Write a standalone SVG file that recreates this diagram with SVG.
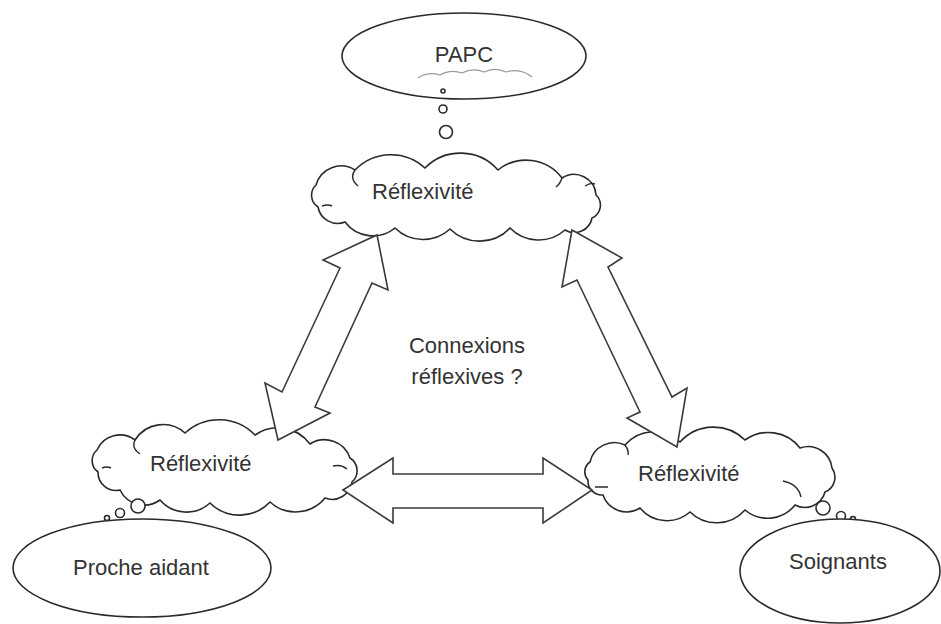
<svg xmlns="http://www.w3.org/2000/svg" width="941" height="624" viewBox="0 0 941 624">
<style>
.sh{fill:#fff;stroke:#2a2a2a;stroke-width:1.6}
.ln{fill:none;stroke:#2a2a2a;stroke-width:1.4}
.ar{fill:#fff;stroke:#3a3a3a;stroke-width:1.6;stroke-linejoin:miter}
.t{font-family:"Liberation Sans",Arial,sans-serif;font-size:22px;fill:#333}
</style>
<rect width="941" height="624" fill="#fff"/>
<g id="papc">
<ellipse class="sh" cx="464" cy="56" rx="122" ry="43"/>
<text class="t" x="464" y="62" text-anchor="middle" font-size="21">PAPC</text>
<path d="M418,78 A26,26 0 0 1 440,75 A26,26 0 0 1 462,73 A26,26 0 0 1 484,72 A26,26 0 0 1 506,72 A28,28 0 0 1 532,77" fill="none" stroke="#9a9a9a" stroke-width="1.2"/>
<circle class="sh" cx="443" cy="91" r="2"/>
<circle class="sh" cx="443" cy="109" r="4"/>
<circle class="sh" cx="446" cy="132" r="6.5"/>
</g>
<g id="cloud-top">
<path class="sh" d="M316,185 A26,26 0 0 1 355,170 A50,50 0 0 1 425,168 A50,50 0 0 1 498,170 A45,45 0 0 1 562,178 A22,22 0 0 1 596,195 A14,14 0 0 1 592,218 A18,18 0 0 1 565,230 A40,40 0 0 1 510,228 A42,42 0 0 1 450,229 A40,40 0 0 1 395,228 A35,35 0 0 1 345,222 A20,20 0 0 1 318,207 A14,14 0 0 1 316,185 Z"/>
<path class="ln" d="M355,170 q-6,8 3,16 M585,186 q6,-4 10,-2 M322,206 q6,-2 10,0 M562,178 q-2,6 -6,9"/>
<text class="t" x="372" y="199">Réflexivité</text>
</g>
<g id="cloud-left">
<path class="sh" d="M97,450 A25,25 0 0 1 135,440 A33,33 0 0 1 185,433 A50,50 0 0 1 255,435 A40,40 0 0 1 310,444 A27,27 0 0 1 350,458 A15,15 0 0 1 352,482 A20,20 0 0 1 325,498 A38,38 0 0 1 270,502 A42,42 0 0 1 210,503 A35,35 0 0 1 160,500 A27,27 0 0 1 120,490 A18,18 0 0 1 98,472 A14,14 0 0 1 97,450 Z"/>
<path class="ln" d="M135,440 q-4,8 5,14 M333,466 q8,-2 14,3 M102,468 q5,-2 9,0"/>
<text class="t" x="150" y="471">Réflexivité</text>
<circle class="sh" cx="138" cy="506" r="7"/>
<circle class="sh" cx="120" cy="513" r="4.5"/>
<circle class="sh" cx="107" cy="518" r="2.5"/>
</g>
<g id="cloud-right">
<path class="sh" d="M590,462 A25,25 0 0 1 625,445 A38,38 0 0 1 680,442 A45,45 0 0 1 745,440 A40,40 0 0 1 800,448 A24,24 0 0 1 832,468 A16,16 0 0 1 825,492 A21,21 0 0 1 795,505 A35,35 0 0 1 745,510 A38,38 0 0 1 690,512 A35,35 0 0 1 640,508 A25,25 0 0 1 603,495 A14,14 0 0 1 588,480 A12,12 0 0 1 590,462 Z"/>
<path class="ln" d="M783,481 q15,3 18,16 M595,487 l13,0 M625,445 q4,5 3,10"/>
<text class="t" x="638" y="481">Réflexivité</text>
<circle class="sh" cx="823" cy="508" r="7"/>
<circle class="sh" cx="841" cy="516" r="4.5"/>
<circle class="sh" cx="853" cy="519" r="2.5"/>
</g>
<g id="proche-aidant">
<ellipse class="sh" cx="142" cy="568" rx="129" ry="49"/>
<text class="t" x="141" y="575" text-anchor="middle" font-size="23">Proche aidant</text>
</g>
<g id="soignants">
<ellipse class="sh" cx="840" cy="571" rx="100" ry="52"/>
<text class="t" x="838" y="569" text-anchor="middle">Soignants</text>
</g>
<g id="center-label">
<text class="t" x="467" y="353" text-anchor="middle" font-size="19">Connexions</text>
<text class="t" x="467" y="384" text-anchor="middle" font-size="19">réflexives ?</text>
</g>
<g id="connectors">
<polygon class="ar" points="377,235 388,290 372,283 315,407 330,413 278,440 265,383 282,392 340,268 323,260"/>
<polygon class="ar" points="572,230 622,258 608,267 672,397 687,388 677,447 627,418 640,412 577,280 562,287"/>
<polygon class="ar" points="343,490 393,458 393,474 543,474 543,458 592,490 543,523 543,508 393,508 393,523"/>
</g>
</svg>
